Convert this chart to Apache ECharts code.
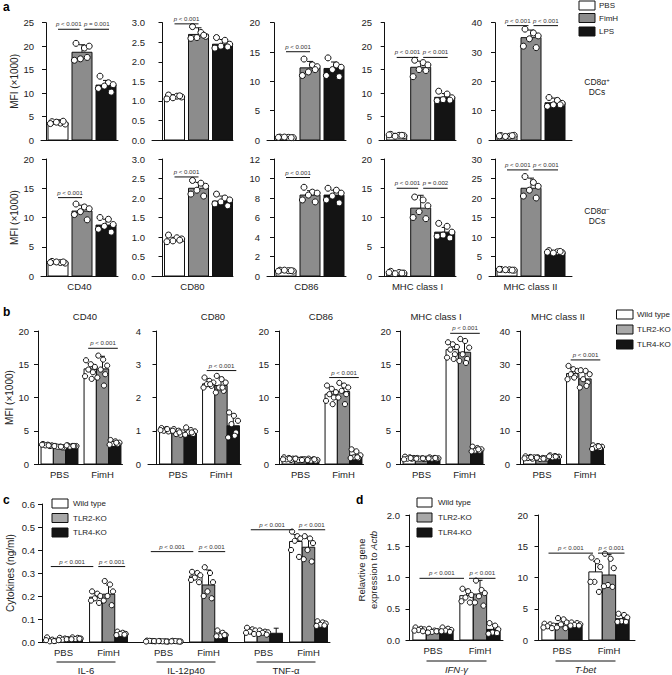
<!DOCTYPE html>
<html><head><meta charset="utf-8">
<script src="https://cdn.jsdelivr.net/npm/echarts@6.0.0/dist/echarts.min.js"></script>
<style>html,body{margin:0;padding:0;background:#fff}#c{width:672px;height:675px}</style>
</head><body><div id="c"></div>
<script>
// ================= DATA =================
// Panel a
const aConditions = ['PBS', 'FimH', 'LPS'];
const aMarkers = ['CD40', 'CD80', 'CD86', 'MHC class I', 'MHC class II'];
const aPosMean = [[3.7, 18.7, 11.7], [1.11, 2.70, 2.45], [0.45, 12.3, 12.2], [1.0, 15.5, 9.1], [1.4, 34.9, 12.7]];
const aPosSD = [[0.6, 1.6, 1.0], [0.05, 0.17, 0.12], [0.1, 1.1, 1.1], [0.4, 1.3, 0.8], [0.3, 2.6, 1.6]];
const aPosDots = [
  [[3.9, 3.6, 3.4, 3.8, 3.5, 4.0], [20.6, 19.6, 20.0, 17.3, 17.0, 17.6], [13.6, 12.2, 11.8, 11.5, 11.0, 10.2]],
  [[1.15, 1.12, 1.10, 1.08, 1.05, 1.13], [2.90, 2.75, 2.65, 2.62, 2.60, 2.68], [2.62, 2.55, 2.45, 2.40, 2.35, 2.38]],
  [[0.5, 0.45, 0.4, 0.5, 0.45, 0.4], [13.8, 12.8, 12.5, 11.6, 11.0, 12.0], [14.0, 12.8, 12.4, 12.0, 11.0, 10.8]],
  [[1.2, 1.0, 0.9, 0.8, 1.1, 1.0], [17.0, 16.5, 16.0, 15.0, 13.5, 14.8], [10.4, 9.8, 9.0, 8.6, 8.4, 8.5]],
  [[1.5, 1.3, 1.6, 1.2, 1.4, 1.5], [37.8, 36.5, 35.5, 34.5, 32.0, 31.5], [14.5, 13.5, 12.5, 12.0, 11.5, 12.0]]
];
const aPosYMax = [25, 3, 20, 25, 40];
const aPosYStep = [5, 0.5, 5, 5, 10];
const aPosP = [[[0, 1, 'p < 0.001'], [1, 2, 'p = 0.001']], [[0, 1, 'p < 0.001']], [[0, 1, 'p < 0.001']],
  [[0, 1, 'p < 0.001'], [1, 2, 'p < 0.001']], [[0, 1, 'p < 0.001'], [1, 2, 'p < 0.001']]];
const aPosPY = [23.6, 2.97, 15.05, 17.6, 39.0];

const aNegMean = [[2.3, 11.1, 8.7], [0.92, 2.25, 1.92], [0.55, 8.3, 8.3], [0.57, 11.6, 7.5], [1.6, 22.5, 6.1]];
const aNegSD = [[0.2, 1.0, 1.0], [0.07, 0.15, 0.13], [0.05, 0.45, 0.5], [0.2, 2.2, 0.8], [0.15, 2.6, 0.3]];
const aNegDots = [
  [[2.5, 2.3, 2.2, 2.4, 2.3, 2.4], [12.3, 11.8, 11.5, 11.0, 10.5, 9.6], [10.0, 9.7, 8.8, 8.5, 8.0, 7.5]],
  [[1.05, 0.98, 0.95, 0.90, 0.88, 0.92], [2.45, 2.38, 2.30, 2.20, 2.10, 2.05], [2.10, 2.00, 1.95, 1.90, 1.85, 1.80]],
  [[0.6, 0.55, 0.5, 0.6, 0.5, 0.55], [9.1, 8.6, 8.5, 8.3, 7.8, 7.6], [9.0, 8.8, 8.5, 8.2, 7.8, 7.5]],
  [[0.8, 0.6, 0.5, 0.4, 0.6, 0.5], [13.5, 13.0, 12.0, 11.0, 10.0, 9.8], [9.0, 8.5, 7.5, 7.0, 6.8, 6.5]],
  [[1.7, 1.6, 1.5, 1.6, 1.7, 1.5], [25.5, 24.0, 23.0, 22.0, 20.5, 20.0], [6.5, 6.2, 6.0, 5.9, 6.1, 6.3]]
];
const aNegYMax = [20, 3, 12, 20, 30];
const aNegYStep = [5, 0.5, 2, 5, 5];
const aNegP = [[[0, 1, 'p < 0.001']], [[0, 1, 'p < 0.001']], [[0, 1, 'p < 0.001']],
  [[0, 1, 'p < 0.001'], [1, 2, 'p = 0.002']], [[0, 1, 'p < 0.001'], [1, 2, 'p < 0.001']]];
const aNegPY = [13.4, 2.54, 10.1, 15.0, 27.2];

// Panel b  [marker][group PBS/FimH][genotype]
const genotypes = ['Wild type', 'TLR2-KO', 'TLR4-KO'];
const bGroups = ['PBS', 'FimH'];
const bMarkers = ['CD40', 'CD80', 'CD86', 'MHC class I', 'MHC class II'];
const bMean = [
  [[2.85, 2.6, 2.7], [14.3, 14.3, 3.2]],
  [[1.02, 0.97, 0.97], [2.41, 2.36, 1.15]],
  [[0.75, 0.7, 0.6], [10.5, 10.9, 1.3]],
  [[0.85, 0.8, 0.85], [17.2, 16.8, 2.1]],
  [[1.8, 1.5, 2.1], [27.2, 25.6, 5.0]]
];
const bSD = [
  [[0.2, 0.15, 0.15], [0.8, 1.9, 0.3]],
  [[0.05, 0.08, 0.07], [0.15, 0.25, 0.35]],
  [[0.2, 0.15, 0.2], [0.9, 1.1, 0.6]],
  [[0.15, 0.1, 0.1], [0.8, 1.6, 0.3]],
  [[0.3, 0.3, 0.3], [1.3, 2.0, 0.4]]
];
const bDots = [
  [[[3.0, 2.9, 2.8, 2.8, 2.7, 2.9, 2.8], [2.7, 2.6, 2.5, 2.6, 2.5, 2.7, 2.6], [2.8, 2.7, 2.7, 2.6, 2.7, 2.8, 2.7]],
   [[15.6, 15.0, 14.6, 14.2, 13.8, 13.2, 12.8], [16.3, 15.7, 14.8, 14.2, 13.5, 13.0, 11.8], [3.6, 3.4, 3.2, 3.0, 3.0, 2.9, 3.2]]],
  [[[1.08, 1.05, 1.0, 1.0, 0.98, 1.02, 1.05], [1.05, 1.0, 0.95, 0.9, 0.88, 1.0, 0.95], [1.1, 1.02, 0.98, 0.95, 0.9, 0.88, 0.95]],
   [[2.6, 2.5, 2.45, 2.4, 2.35, 2.3, 2.4], [2.65, 2.55, 2.45, 2.3, 2.2, 2.15, 2.3], [1.55, 1.45, 1.3, 1.2, 0.95, 0.8, 0.85]]],
  [[[1.0, 0.9, 0.8, 0.7, 0.6, 0.7, 0.8], [0.8, 0.7, 0.7, 0.6, 0.7, 0.8, 0.6], [0.8, 0.7, 0.6, 0.5, 0.5, 0.6, 0.7]],
   [[11.8, 11.3, 10.8, 10.5, 10.0, 9.5, 9.0], [12.2, 11.8, 11.5, 11.0, 10.5, 10.0, 9.0], [2.2, 1.9, 1.3, 1.0, 0.9, 0.9, 1.0]]],
  [[[1.1, 1.0, 0.9, 0.8, 0.8, 0.7, 0.9], [0.9, 0.85, 0.8, 0.8, 0.75, 0.8, 0.85], [1.0, 0.9, 0.85, 0.8, 0.8, 0.85, 0.9]],
   [[18.3, 18.0, 17.6, 17.2, 16.5, 16.0, 15.8], [18.8, 18.5, 17.5, 16.5, 15.8, 15.5, 15.2], [2.6, 2.4, 2.2, 2.0, 2.0, 1.9, 2.2]]],
  [[[2.3, 2.1, 2.0, 1.8, 1.6, 1.7, 2.0], [2.0, 1.8, 1.6, 1.5, 1.7, 1.9, 1.6], [2.6, 2.4, 2.2, 2.0, 2.1, 2.3, 2.2]],
   [[29.5, 28.5, 28.0, 27.0, 26.5, 25.5, 26.0], [28.2, 28.0, 27.0, 25.5, 24.5, 23.0, 23.5], [5.6, 5.4, 5.2, 5.0, 4.8, 4.5, 5.3]]]
];
const bYMax = [20, 4, 20, 20, 40];
const bYStep = [5, 1, 5, 5, 10];
const bPText = ['p < 0.001', 'p < 0.001', 'p < 0.001', 'p < 0.001', 'p < 0.001'];
const bPY = [17.4, 2.81, 13.0, 19.65, 31.3];

// Panel c  [cytokine][group][genotype]
const cCytokines = ['IL-6', 'IL-12p40', 'TNF-α'];
const cMean = [
  [[0.008, 0.012, 0.015], [0.195, 0.208, 0.036]],
  [[0.004, 0.003, 0.003], [0.287, 0.248, 0.032]],
  [[0.045, 0.04, 0.038], [0.437, 0.412, 0.078]]
];
const cSD = [
  [[0.004, 0.004, 0.003], [0.015, 0.04, 0.006]],
  [[0.001, 0.001, 0.001], [0.015, 0.065, 0.008]],
  [[0.01, 0.006, 0.022], [0.03, 0.04, 0.01]]
];
const cDots = [
  [[[0.02, 0.01, 0.005, 0.003, 0.008, 0.004], [0.018, 0.015, 0.012, 0.01, 0.008, 0.012], [0.02, 0.018, 0.015, 0.013, 0.012, 0.014]],
   [[0.22, 0.21, 0.2, 0.19, 0.18, 0.17], [0.265, 0.25, 0.22, 0.2, 0.18, 0.16], [0.045, 0.04, 0.035, 0.035, 0.03, 0.032]]],
  [[[0.006, 0.004, 0.003, 0.005, 0.002, 0.004], [0.004, 0.003, 0.002, 0.003, 0.004, 0.002], [0.005, 0.003, 0.002, 0.004, 0.003, 0.002]],
   [[0.305, 0.3, 0.29, 0.28, 0.27, 0.26], [0.325, 0.3, 0.26, 0.22, 0.2, 0.19], [0.05, 0.04, 0.03, 0.025, 0.025, 0.03]]],
  [[[0.062, 0.055, 0.05, 0.045, 0.04, 0.035], [0.05, 0.045, 0.042, 0.04, 0.035, 0.032], []],
   [[0.48, 0.46, 0.45, 0.44, 0.4, 0.37], [0.46, 0.45, 0.43, 0.4, 0.36, 0.35], [0.09, 0.085, 0.08, 0.075, 0.07, 0.072]]]
];
const cPY = [0.328, 0.393, 0.488];
const cYTicks = ['0.0', '0.1', '0.2', '0.3', '0.4', '0.5', '0.6'];

// Panel d  [gene][group][genotype]
const dGenes = ['IFN-γ', 'T-bet'];
const dMean = [
  [[0.17, 0.145, 0.16], [0.71, 0.735, 0.17]],
  [[2.25, 2.65, 2.5], [10.9, 10.4, 3.4]]
];
const dSD = [
  [[0.03, 0.02, 0.03], [0.1, 0.22, 0.08]],
  [[0.3, 0.6, 0.25], [1.7, 3.3, 0.6]]
];
const dDots = [
  [[[0.2, 0.18, 0.17, 0.16, 0.15, 0.14], [0.18, 0.15, 0.14, 0.13, 0.12, 0.14], [0.2, 0.18, 0.16, 0.15, 0.14, 0.13]],
   [[0.82, 0.78, 0.72, 0.68, 0.62, 0.6], [0.95, 0.8, 0.75, 0.7, 0.6, 0.55], [0.27, 0.23, 0.17, 0.12, 0.1, 0.11]]],
  [[[2.6, 2.5, 2.3, 2.2, 2.0, 1.9], [3.5, 3.3, 2.8, 2.5, 2.0, 1.9], [2.8, 2.7, 2.5, 2.4, 2.3, 2.3]],
   [[13.2, 12.6, 11.7, 9.3, 9.3, 7.7], [13.8, 13.0, 11.5, 8.8, 8.6, 8.5], [4.2, 4.0, 3.6, 3.0, 2.9, 2.9]]]
];
const dYMax = [2, 20];
const dYStep = [0.5, 5];
const dPY = [0.987, 13.9];

// ================= STYLE / LAYOUT =================
const FONT = "'Liberation Sans', Arial, Helvetica, sans-serif";
const TXT = '#222';
const COL = ['#ffffff', '#8c8c8c', '#141414'];
const JIT = {
  6: [-0.3, 0.12, 0.36, -0.08, -0.38, 0.26],
  7: [-0.34, 0.05, 0.38, -0.15, 0.22, -0.42, 0.12]
};
const PFS = 6.1;

const option = {
  animation: false, backgroundColor: '#fff',
  color: ['#222'],
  textStyle: { fontFamily: FONT },
  grid: [], xAxis: [], yAxis: [], series: [], graphic: []
};

function pText(t) { return '{i|p}{n|' + t.slice(1) + '}'; }

function addChart(o) {
  const gi = option.grid.length;
  const min = 0.5 - o.d / o.unit;
  const max = o.lastCenter + o.e / o.unit;
  const width = (max - min) * o.unit;
  option.grid.push({ left: o.left, top: o.top, width: width, height: o.bottom - o.top, containLabel: false });
  option.xAxis.push({
    type: 'value', gridIndex: gi, min: min, max: max,
    axisLine: { show: true, onZero: false, lineStyle: { color: '#111', width: 1 } },
    axisTick: { show: false }, axisLabel: { show: false }, splitLine: { show: false },
    name: o.xName || '', nameLocation: 'middle', nameGap: 5,
    nameTextStyle: { fontSize: 9.5, color: TXT, fontFamily: FONT, verticalAlign: 'top' }
  });
  option.yAxis.push({
    type: 'value', gridIndex: gi, min: 0, max: o.yMax, interval: o.yStep,
    axisLine: { show: true, lineStyle: { color: '#111', width: 1 } },
    axisTick: { show: true, length: 4, lineStyle: { color: '#111' } },
    axisLabel: { fontSize: 9.5, color: TXT, margin: 7, fontFamily: FONT,
      formatter: o.yLabels ? (v, i) => o.yLabels[i] : (v => v.toFixed(o.dec || 0)) },
    splitLine: { show: false },
    name: o.yName || '', nameLocation: 'middle', nameGap: o.yNameGap || 24, nameRotate: 90,
    nameTextStyle: Object.assign({ fontSize: 10, color: TXT, fontFamily: FONT }, o.yNameStyle || {})
  });
  const ax = { coordinateSystem: 'cartesian2d', xAxisIndex: gi, yAxisIndex: gi, clip: false, silent: true,
    itemStyle: { color: '#222' } };
  const barW = o.barW;
  // bars
  option.series.push(Object.assign({
    type: 'custom', z: 2,
    data: o.bars.map(b => [b[0], b[1], b[2], b[3]]),
    encode: { x: 0, y: 1 },
    renderItem: (p, api) => {
      const x = api.value(0), v = api.value(1), c = api.value(3);
      const t = api.coord([x, v]), b = api.coord([x, 0]);
      return { type: 'rect', shape: { x: t[0] - barW / 2, y: t[1], width: barW, height: b[1] - t[1] },
        style: { fill: COL[c], stroke: '#111', lineWidth: 1 } };
    }
  }, ax));
  // error bars
  option.series.push(Object.assign({
    type: 'custom', z: 3,
    data: o.bars.map(b => [b[0], b[1], b[2]]),
    encode: { x: 0, y: 1 },
    renderItem: (p, api) => {
      const x = api.value(0), v = api.value(1), sd = api.value(2);
      const a = api.coord([x, v]), t = api.coord([x, v + sd]);
      const cap = o.cap;
      return { type: 'group', children: [
        { type: 'line', shape: { x1: a[0], y1: a[1], x2: t[0], y2: t[1] }, style: { stroke: '#111', lineWidth: 1 } },
        { type: 'line', shape: { x1: t[0] - cap, y1: t[1], x2: t[0] + cap, y2: t[1] }, style: { stroke: '#111', lineWidth: 1 } }
      ] };
    }
  }, ax));
  // dots
  const dots = [];
  o.bars.forEach(b => {
    const vals = b[4] || [];
    const pat = JIT[vals.length] || vals.map((_, i) => -0.35 + 0.7 * i / Math.max(1, vals.length - 1));
    vals.forEach((v, i) => dots.push([b[0], v, pat[i]]));
  });
  option.series.push(Object.assign({
    type: 'custom', z: 4, data: dots, encode: { x: 0, y: 1 },
    renderItem: (p, api) => {
      const c = api.coord([api.value(0), api.value(1)]);
      return { type: 'circle', shape: { cx: c[0] + api.value(2) * barW, cy: c[1], r: o.dotR },
        style: { fill: '#fff', stroke: '#111', lineWidth: 1 } };
    }
  }, ax));
  // brackets
  if (o.brackets && o.brackets.length) {
    const texts = o.brackets.map(b => b[3]);
    option.series.push(Object.assign({
      type: 'custom', z: 5, data: o.brackets.map(b => [b[0], b[1], b[2]]), encode: { x: [0, 1], y: 2 },
      renderItem: (p, api) => {
        const a = api.coord([api.value(0), api.value(2)]), b = api.coord([api.value(1), api.value(2)]);
        return { type: 'group', children: [
          { type: 'line', shape: { x1: a[0], y1: a[1], x2: b[0], y2: b[1] }, style: { stroke: '#111', lineWidth: 1 } },
          { type: 'text', x: (a[0] + b[0]) / 2, y: a[1] - 2.5,
            style: { text: pText(texts[p.dataIndex]), fontSize: PFS, fontFamily: FONT, fill: '#333',
              align: 'center', verticalAlign: 'bottom',
              rich: { i: { fontStyle: 'italic', fontSize: PFS, fontFamily: FONT, fill: '#333' },
                      n: { fontSize: PFS, fontFamily: FONT, fill: '#333' } } } }
        ] };
      }
    }, ax));
  }
  // group labels under axis
  if (o.groupLabels) {
    const gl = o.groupLabels;
    option.series.push(Object.assign({
      type: 'custom', z: 5, data: gl.map(g => [g[0], 0]), encode: { x: 0, y: 1 },
      renderItem: (p, api) => {
        const c = api.coord([api.value(0), 0]);
        return { type: 'text', x: c[0], y: c[1] + 10,
          style: { text: gl[p.dataIndex][1], fontSize: 9.5, fontFamily: FONT, fill: TXT, align: 'center', verticalAlign: 'middle' } };
      }
    }, ax));
  }
  // cluster labels with underline
  if (o.clusterLabels) {
    const cl = o.clusterLabels;
    option.series.push(Object.assign({
      type: 'custom', z: 5, data: cl.map(g => [g[0], 0]), encode: { x: 0, y: 1 },
      renderItem: (p, api) => {
        const c = api.coord([api.value(0), 0]);
        const it = cl[p.dataIndex][2];
        return { type: 'group', children: [
          { type: 'line', shape: { x1: c[0] - o.ulHalf, y1: c[1] + o.ulDy, x2: c[0] + o.ulHalf, y2: c[1] + o.ulDy },
            style: { stroke: '#111', lineWidth: 1 } },
          { type: 'text', x: c[0], y: c[1] + o.ulDy + 8,
            style: { text: cl[p.dataIndex][1], fontSize: 9.5, fontFamily: FONT, fill: TXT, fontStyle: it ? 'italic' : 'normal',
              align: 'center', verticalAlign: 'middle' } }
        ] };
      }
    }, ax));
  }
}

// ---------- panel a ----------
const aLeft = [41, 152, 267, 379, 489];
const aD = [17, 22.5, 19, 17.7, 18];
const aE = [12, 10.5, 12, 11.3, 17];
function buildA(means, sds, dotsArr, ymax, ystep, pArr, pY, top, bottom, withNames) {
  for (let k = 0; k < 5; k++) {
    const bars = means[k].map((m, i) => [i + 0.5, m, sds[k][i], i, dotsArr[k][i]]);
    const g = 2.5 / 24;
    const brs = pArr[k].map((b, j) => {
      let x1 = b[0] + 0.5, x2 = b[1] + 0.5;
      if (pArr[k].length === 2) { if (j === 0) x2 -= g; else { x1 += g; x2 += 3 / 24; } }
      return [x1, x2, pY[k], b[2]];
    });
    addChart({
      left: aLeft[k], top: top, bottom: bottom, unit: 24, d: aD[k], e: aE[k], lastCenter: 2.5,
      yMax: ymax[k], yStep: ystep[k], dec: ystep[k] < 1 ? 1 : 0,
      yName: k === 0 ? 'MFI (×1000)' : '', yNameGap: 22,
      xName: withNames ? aMarkers[k] : '',
      bars: bars, barW: 20, cap: 3, dotR: 3, brackets: brs
    });
  }
}
buildA(aPosMean, aPosSD, aPosDots, aPosYMax, aPosYStep, aPosP, aPosPY, 22.7, 140, false);
buildA(aNegMean, aNegSD, aNegDots, aNegYMax, aNegYStep, aNegP, aNegPY, 159, 276, true);

// ---------- panel b ----------
const bLeft = [36, 148, 276, 398, 517];
const bD = [23.5, 30, 24.5, 23.5, 25];
const bUnit = 43, bBarW = 12.3;
for (let k = 0; k < 5; k++) {
  const bars = [];
  for (let g = 0; g < 2; g++) for (let s = 0; s < 3; s++) {
    bars.push([g + 0.5 + (s - 1) * bBarW / bUnit, bMean[k][g][s], bSD[k][g][s], s, bDots[k][g][s]]);
  }
  const x1 = 1.5 - bBarW / bUnit - 2 / bUnit, x2 = 1.5 + bBarW / bUnit + 3 / bUnit;
  addChart({
    left: bLeft[k], top: 331, bottom: 464, unit: bUnit, d: bD[k], e: 20, lastCenter: 1.5,
    yMax: bYMax[k], yStep: bYStep[k], dec: 0,
    yName: k === 0 ? 'MFI (×1000)' : '', yNameGap: 22,
    bars: bars, barW: bBarW, cap: 2.5, dotR: 2.6,
    brackets: [[x1, x2, bPY[k], bPText[k]]],
    groupLabels: bGroups.map((n, g) => [g + 0.5, n])
  });
}

// ---------- panel c ----------
const cUnit = 45, cBarW = 12.5, cSp = 12.7, cClusterGap = 100 / 45;
{
  const bars = [], brs = [], gl = [], cl = [];
  const g2 = 2.5 / cUnit;
  for (let k = 0; k < 3; k++) {
    for (let g = 0; g < 2; g++) {
      const gc = 0.5 + k * cClusterGap + g;
      gl.push([gc, bGroups[g]]);
      for (let s = 0; s < 3; s++) bars.push([gc + (s - 1) * cSp / cUnit, cMean[k][g][s], cSD[k][g][s], s, cDots[k][g][s]]);
    }
    const pbsWT = 0.5 + k * cClusterGap - cSp / cUnit;
    const fimWT = pbsWT + 1, fimT4 = fimWT + 2 * cSp / cUnit;
    brs.push([pbsWT, fimWT - g2, cPY[k], 'p < 0.001']);
    brs.push([fimWT + g2, fimT4 + 4 / cUnit, cPY[k], 'p < 0.001']);
    cl.push([1 + k * cClusterGap, cCytokines[k], false]);
  }
  addChart({
    left: 42, top: 504, bottom: 642, unit: cUnit, d: 21.5, e: 21.5, lastCenter: 0.5 + 2 * cClusterGap + 1,
    yMax: 0.6, yStep: 0.1, yLabels: cYTicks,
    yName: 'Cytokines (ng/ml)', yNameGap: 27,
    bars: bars, barW: cBarW, cap: 2.5, dotR: 2.6, brackets: brs, groupLabels: gl,
    clusterLabels: cl, ulHalf: 29.5, ulDy: 20
  });
}

// ---------- panel d ----------
const dLeft = [407, 535], dDd = [26, 27], dEe = [23, 26];
const dUnit = 47, dBarW = 13.3, dSp = 13.5;
for (let k = 0; k < 2; k++) {
  const bars = [];
  for (let g = 0; g < 2; g++) for (let s = 0; s < 3; s++)
    bars.push([g + 0.5 + (s - 1) * dSp / dUnit, dMean[k][g][s], dSD[k][g][s], s, dDots[k][g][s]]);
  const g2 = 2.5 / dUnit;
  const pbsWT = 0.5 - dSp / dUnit, fimWT = pbsWT + 1, fimT4 = fimWT + 2 * dSp / dUnit;
  addChart({
    left: dLeft[k], top: 515, bottom: 640, unit: dUnit, d: dDd[k], e: dEe[k], lastCenter: 1.5,
    yMax: dYMax[k], yStep: dYStep[k], dec: dYStep[k] < 1 ? 1 : 0,
    bars: bars, barW: dBarW, cap: 2.5, dotR: 2.6,
    brackets: [[pbsWT, fimWT - g2, dPY[k], 'p < 0.001'], [fimWT + g2, fimT4 + 2 / dUnit, dPY[k], 'p < 0.001']],
    groupLabels: bGroups.map((n, g) => [g + 0.5, n]),
    clusterLabels: [[1, dGenes[k], true]], ulHalf: 30, ulDy: 21
  });
}

// ---------- graphics: letters, legends, titles ----------
const G = option.graphic;
function txt(x, y, text, extra) {
  G.push({ type: 'text', x: x, y: y, silent: true,
    style: Object.assign({ text: text, fontSize: 9, fontFamily: FONT, fill: TXT, align: 'left', verticalAlign: 'middle' }, extra || {}) });
}
[['a', 3, 7], ['b', 3, 312], ['c', 3, 500], ['d', 356, 500]].forEach(l => txt(l[1], l[2], l[0], { fontSize: 12, fontWeight: 'bold', fill: '#000' }));

function legend(x, ys, w, h, tx, labels, grayCol) {
  const cols = ['#ffffff', grayCol, '#141414'];
  labels.forEach((lab, i) => {
    G.push({ type: 'rect', silent: true, shape: { x: x, y: ys[i], width: w, height: h }, style: { fill: cols[i], stroke: '#111', lineWidth: 1 } });
    txt(tx, ys[i] + h / 2, lab, { fontSize: 8 });
  });
}
legend(579, [1, 13.5, 27], 16, 9, 599, aConditions, '#8c8c8c');
legend(616.5, [310, 325, 340], 16.5, 9, 637, genotypes, '#a8a8a8');
legend(52, [499, 513.5, 528], 16, 9, 73, genotypes, '#a8a8a8');
legend(417, [498, 513, 528], 15, 9, 438, genotypes, '#a8a8a8');

// DC subset labels
G.push({ type: 'text', x: 597, y: 82, silent: true, style: { text: '{n|CD8α}{s|+}', fontSize: 8.5, fontFamily: FONT, fill: TXT, align: 'center', verticalAlign: 'middle',
  rich: { n: { fontSize: 8.5, fontFamily: FONT, fill: TXT }, s: { fontSize: 6, fontFamily: FONT, fill: TXT, verticalAlign: 'top', padding: [0, 0, 5, 0] } } } });
txt(597, 92, 'DCs', { align: 'center', fontSize: 8.5 });
G.push({ type: 'text', x: 597, y: 211, silent: true, style: { text: '{n|CD8α}{s|−}', fontSize: 8.5, fontFamily: FONT, fill: TXT, align: 'center', verticalAlign: 'middle',
  rich: { n: { fontSize: 8.5, fontFamily: FONT, fill: TXT }, s: { fontSize: 6, fontFamily: FONT, fill: TXT, verticalAlign: 'top', padding: [0, 0, 5, 0] } } } });
txt(597, 221, 'DCs', { align: 'center', fontSize: 8.5 });

// panel b titles
const bTitleX = [85, 213, 321, 436, 558];
bMarkers.forEach((m, k) => txt(bTitleX[k], 316, m, { align: 'center', fontSize: 9.5 }));

// panel d y label
G.push({ type: 'text', x: 367, y: 570, rotation: Math.PI / 2, silent: true,
  style: { text: '{n|Relavtive gene}\n{n|expression to }{i|Actb}', fontSize: 9.5, fontFamily: FONT, fill: TXT, align: 'center', verticalAlign: 'middle', lineHeight: 12,
    rich: { n: { fontSize: 9.5, fontFamily: FONT, fill: TXT, lineHeight: 12 }, i: { fontStyle: 'italic', fontSize: 9.5, fontFamily: FONT, fill: TXT, lineHeight: 12 } } } });

const chart = echarts.init(document.getElementById('c'), null, { renderer: 'svg', width: 672, height: 675 });
chart.setOption(option);
</script></body></html>
